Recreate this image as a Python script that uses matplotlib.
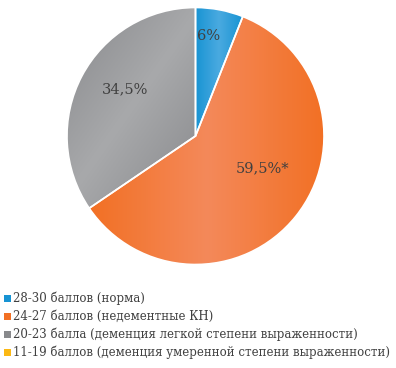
import matplotlib
matplotlib.use("Agg")
import matplotlib.pyplot as plt
import numpy as np
from matplotlib.patches import Rectangle

# данные
labels = [
    "28-30 баллов (норма)",
    "24-27 баллов (недементные КН)",
    "20-23 балла (деменция легкой степени выраженности)",
    "11-19 баллов (деменция умеренной степени выраженности)",
]
values = [6.0, 59.5, 34.5, 0.0]
value_texts = ["6%", "59,5%*", "34,5%", ""]

# стили
dark_colors = ["#1793d3", "#f27024", "#88898c", "#fbb814"]
light_colors = ["#4aaae0", "#f4895a", "#a8a9ab", "#fcc84a"]
grad_dirs = [0.0, 0.0, -35.0, 0.0]  # угол направления градиента, градусы
label_pos = [(0.10, 0.78), (0.52, -0.25), (-0.55, 0.36), (0, 0)]

plt.rcParams["font.family"] = ["DejaVu Serif"]

fig = plt.figure(figsize=(3.96, 3.68), dpi=100)
r_px = 128.5
cx, cy = 195.5, 136
ax = fig.add_axes([(cx - r_px) / 396, (368 - cy - r_px) / 368, 2 * r_px / 396, 2 * r_px / 368])

wedges, _ = ax.pie(
    values,
    colors=dark_colors,
    startangle=90,
    counterclock=False,
    radius=1.0,
    wedgeprops=dict(edgecolor="white", linewidth=1.2),
)
ax.set_aspect("equal")


def hex_rgb(h):
    h = h.lstrip("#")
    return np.array([int(h[i:i + 2], 16) / 255 for i in (0, 2, 4)])


# градиентная заливка секторов
for w, v, dc, lc, ang in zip(wedges, values, dark_colors, light_colors, grad_dirs):
    if v <= 0:
        continue
    verts = w.get_patch_transform().transform(w.get_path().vertices)
    x0, y0 = verts.min(axis=0)
    x1, y1 = verts.max(axis=0)
    n = 200
    X, Y = np.meshgrid(np.linspace(x0, x1, n), np.linspace(y0, y1, n))
    a = np.deg2rad(ang)
    proj = X * np.cos(a) + Y * np.sin(a)
    t = (proj - proj.min()) / (proj.max() - proj.min())
    s = 1 - np.abs(2 * t - 1)
    d, l = hex_rgb(dc), hex_rgb(lc)
    img = d[None, None, :] + (l - d)[None, None, :] * s[..., None]
    im = ax.imshow(img, extent=(x0, x1, y0, y1), origin="lower", zorder=1.5, interpolation="bilinear")
    im.set_clip_path(w)
    # белая граница поверх
    w.set_facecolor("none")
    w.set_zorder(2)

ax.set_xlim(-1.0, 1.0)
ax.set_ylim(-1.0, 1.0)
ax.axis("off")

for txt, (x, y) in zip(value_texts, label_pos):
    if txt:
        ax.text(x, y, txt, ha="center", va="center", fontsize=10.5, color="#404040", zorder=3)

# легенда
y_top = 298
for i, (lab, c) in enumerate(zip(labels, dark_colors)):
    yy = y_top + i * 18
    fig.patches.append(Rectangle((4 / 396, 1 - (yy + 3.5) / 368), 7 / 396, 7 / 368,
                                 transform=fig.transFigure, facecolor=c, edgecolor="none"))
    fig.text(13 / 396, 1 - yy / 368, lab, ha="left", va="center", fontsize=8.5, color="#404040")

fig.savefig("out.png", dpi=100)
